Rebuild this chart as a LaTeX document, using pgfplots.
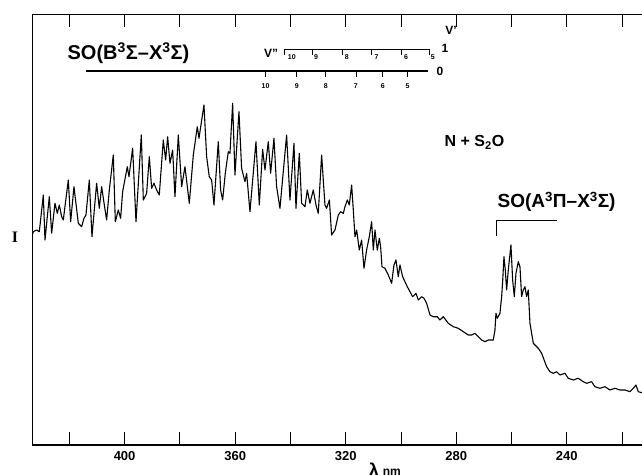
\documentclass[border=0pt]{standalone}
\usepackage{pgfplots}
\pgfplotsset{compat=1.18}
\usepackage{fontspec}
\setmainfont{Liberation Sans}
\newfontfamily\seriffont{Liberation Serif}

% spectrum: wavelength (nm), intensity (arb. units)
\pgfplotstableread{
lam I
433.39 210
433.03 213.3
431.82 215
430.86 213.3
429.41 250
428.81 205
427.24 248.3
426.40 211.7
425.19 241.7
424.35 231.7
423.62 240
422.78 228.3
422.18 225
420.37 265
419.52 223.3
418.32 258.3
416.75 221.7
415.54 218.3
414.70 226.7
413.98 230
412.77 265
411.81 208.3
410.12 261.7
409.15 236.7
408.31 258.3
407.34 240
406.50 225
405.53 255
404.09 290
403.36 223.3
402.28 235
401.44 226.7
400.71 253.3
399.02 278.3
398.42 268.3
397.09 296.7
395.88 223.3
393.96 310
393.23 245
392.03 251.7
391.06 288.3
390.22 256.7
389.37 261.7
388.41 255
387.45 250
386.00 305
385.15 285
384.43 308.3
383.58 281.7
382.62 295
381.78 248.3
380.57 310
379.36 258.3
378.16 278.3
376.59 241.7
375.14 290
373.70 318.3
373.09 306.7
371.28 340
370.32 288.3
369.36 268.3
368.51 265
367.67 240
366.10 303.3
365.26 255
364.53 245
363.57 271.7
362.48 293.3
361.88 291.7
360.91 341.7
360.07 270
358.62 333.3
357.66 276.7
356.45 263.3
355.85 271.7
354.64 233.3
352.47 303.3
351.26 240
350.06 295.7
349.21 275
348.01 303.3
347.17 271.7
345.96 306.7
345.00 258.3
343.79 236.7
341.38 310
340.17 245
338.72 301.7
338.00 236.7
336.79 291.7
335.95 241.7
334.74 238.3
333.90 255
332.93 241.7
331.73 255
330.76 240
329.92 231.7
328.71 290
327.51 240
326.90 236.7
325.90 245
325.10 210
323.88 215
322.68 230
321.83 233.3
320.87 231.7
320.26 238.3
319.42 245
318.70 240
317.85 260
317.25 235
316.65 208.3
316.04 215
315.08 195
314.24 205
313.39 176.7
312.43 195
311.46 208.3
310.62 223.3
310.01 195
309.41 215
308.57 195
307.84 206.7
307.36 198.3
306.88 178.3
305.79 176.7
304.59 170
303.38 161.7
302.54 180
301.81 185
300.97 168.3
300.37 180
299.40 168.3
298.56 163.3
297.71 158.3
296.75 153.3
295.78 148.3
294.58 151.7
293.73 145
292.53 148.3
291.68 146.7
290.72 141.7
289.51 130
288.31 128.3
286.86 128.3
285.90 125
284.69 128.3
282.88 121.7
281.07 118.3
279.26 116.7
277.45 113.3
275.64 110
274.44 110
273.23 111.7
272.03 108.3
270.82 105
269.62 103.3
268.41 105
266.60 105
266.00 115
265.64 131.7
265.15 126.7
264.19 131.7
263.58 148.3
263.22 163.3
262.74 188.3
262.26 175
261.78 155
261.17 175
260.21 200
259.60 165
259.00 148.3
258.40 171.7
257.55 183.3
256.95 178.3
256.35 148.3
255.75 155
255.14 158.3
254.54 148.3
253.94 155
253.33 121.7
252.13 101.7
250.32 96.7
249.11 91.7
247.30 78.3
246.10 73.3
244.89 71.7
243.69 73.3
242.48 70
240.67 71.7
239.47 66.7
237.66 65
235.85 66.7
234.04 63.3
232.83 61.7
231.02 63.3
229.82 58.3
228.01 56.7
226.20 58.3
224.39 55
222.58 56.7
220.77 55
218.96 55
217.15 53.3
215.95 56.7
214.98 60
214.14 53.3
212.81 52.3
}\spectrum

\begin{document}
\begin{tikzpicture}
\useasboundingbox (-32.3pt,-29pt) rectangle (609.7pt,445pt);
\begin{axis}[
  at={(0,0)}, anchor=south west,
  scale only axis, width=617.7pt, height=430.7pt,
  x dir=reverse, xmin=209.9, xmax=433.4, ymin=0, ymax=430.7,
  ytick=\empty,
  xtick={240,280,320,360,400},
  minor xtick={220,260,300,340,380,420},
  major tick length=13pt, minor tick length=13pt,
  tick style={black, line width=0.9pt},
  axis line style={line width=1.1pt},
  xticklabel style={font=\fontsize{13}{13}\selectfont\bfseries, inner sep=0pt, yshift=-6.5pt},
  /pgf/number format/assume math mode=true,
  clip mode=individual,
]
\addplot[black, line width=1.1pt, line join=round] table[x=lam, y=I] {\spectrum};

% SO(B-X) progression markers
\node[font=\fontsize{20}{20}\selectfont\bfseries, anchor=base] at (axis cs:398.6,385) {SO(B\textsuperscript{3}Σ–X\textsuperscript{3}Σ)};
\draw[line width=2.2pt] (axis cs:414.0,374.3) -- (axis cs:290.2,374.3);
\draw[line width=0.8pt] (axis cs:349.0,374.3) -- (axis cs:349.0,368.3)
  (axis cs:337.7,374.3) -- (axis cs:337.7,368.3)
  (axis cs:327.2,374.3) -- (axis cs:327.2,368.3)
  (axis cs:316.3,374.3) -- (axis cs:316.3,368.3)
  (axis cs:306.6,374.3) -- (axis cs:306.6,368.3)
  (axis cs:297.6,374.3) -- (axis cs:297.6,368.3);
\draw[line width=0.9pt] (axis cs:342.3,390) -- (axis cs:342.3,396) -- (axis cs:289.8,396) -- (axis cs:289.8,390);
\draw[line width=0.8pt] (axis cs:332.0,396) -- (axis cs:332.0,390)
  (axis cs:321.1,396) -- (axis cs:321.1,390)
  (axis cs:310.6,396) -- (axis cs:310.6,390)
  (axis cs:300.0,396) -- (axis cs:300.0,390);
\begin{scope}[every node/.style={font=\fontsize{7}{7}\selectfont\bfseries}]
\node at (axis cs:349.0,359.3) {10};
\node at (axis cs:337.7,359.3) {9};
\node at (axis cs:327.2,359.3) {8};
\node at (axis cs:316.3,359.3) {7};
\node at (axis cs:306.6,359.3) {6};
\node at (axis cs:297.6,359.3) {5};
\node at (axis cs:339.5,387.7) {10};
\node at (axis cs:330.7,387.7) {9};
\node at (axis cs:319.6,387.7) {8};
\node at (axis cs:308.8,387.7) {7};
\node at (axis cs:298.2,387.7) {6};
\node at (axis cs:288.5,387.7) {5};
\end{scope}
\node[font=\fontsize{12}{12}\selectfont\bfseries] at (axis cs:347.0,392) {V''};
\node[font=\fontsize{12}{12}\selectfont\bfseries] at (axis cs:284.1,397) {1};
\node[font=\fontsize{12}{12}\selectfont\bfseries] at (axis cs:285.9,374) {0};
\node[font=\fontsize{12}{12}\selectfont\bfseries] at (axis cs:281.9,415) {V'};

% labels
\node[font=\fontsize{16}{16}\selectfont\bfseries, anchor=base] at (axis cs:273.4,298) {N + S\textsubscript{2}O};
\node[font=\fontsize{19}{19}\selectfont\bfseries, anchor=base] at (axis cs:243.7,237.7) {SO(A\textsuperscript{3}Π–X\textsuperscript{3}Σ)};
\draw[line width=1pt] (axis cs:265.4,209) -- (axis cs:265.4,224.3) -- (axis cs:243.7,224.3);

\node[font=\fontsize{16}{16}\selectfont\seriffont\bfseries] at (axis cs:439.7,208) {I};
\node[font=\fontsize{18}{18}\selectfont\bfseries, anchor=north, inner sep=0pt] at (axis cs:309.8,-18) {λ};
\node[font=\fontsize{12}{12}\selectfont\bfseries, anchor=north, inner sep=0pt] at (axis cs:303.3,-23.5) {nm};
\end{axis}
\end{tikzpicture}
\end{document}
